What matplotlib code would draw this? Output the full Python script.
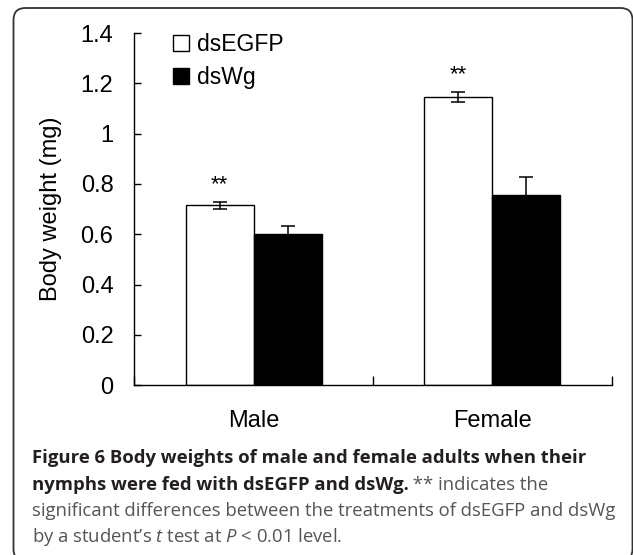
import numpy as np
import matplotlib
matplotlib.use('Agg')
import matplotlib.pyplot as plt
import matplotlib.patches as patches
from matplotlib.transforms import IdentityTransform

plt.rcParams['font.family'] = ['Liberation Sans', 'DejaVu Sans']
plt.rcParams['mathtext.fontset'] = 'custom'
plt.rcParams['mathtext.rm'] = 'Open Sans'
plt.rcParams['mathtext.it'] = 'Open Sans:italic'

# data
groups = ['Male', 'Female']
dsegfp = [0.715, 1.145]
dsegfp_err = [0.015, 0.02]
dswg = [0.603, 0.755]
dswg_err = [0.03, 0.073]
signif = ['**', '**']
ytick_vals = [0, 0.2, 0.4, 0.6, 0.8, 1.0, 1.2, 1.4]
ytick_labels = ['0', '0.2', '0.4', '0.6', '0.8', '1', '1.2', '1.4']

fig = plt.figure(figsize=(6.33, 5.55), dpi=100)
ax = fig.add_axes([0.2122, 0.3058, 0.7542, 0.6347])

x = np.arange(len(groups))
w = 0.285
ax.bar(x - w / 2, dsegfp, w, color='white', edgecolor='black', linewidth=1.0,
       label='dsEGFP', zorder=2)
ax.bar(x + w / 2, dswg, w, color='black', edgecolor='black', linewidth=1.0,
       label='dsWg', zorder=2)
ax.errorbar(x - w / 2, dsegfp, yerr=dsegfp_err, fmt='none', ecolor='black',
            elinewidth=1.1, capsize=4.8, capthick=1.1, zorder=3)
ax.errorbar(x + w / 2, dswg, yerr=dswg_err, fmt='none', ecolor='black',
            elinewidth=1.1, capsize=4.8, capthick=1.1, zorder=3)

for xi, v, e, s in zip(x - w / 2, dsegfp, dsegfp_err, signif):
    ax.annotate(s, (xi, v + e), xytext=(0, 8.5), textcoords='offset points',
                ha='center', va='baseline', fontsize=16)

ax.set_xlim(-0.5, 1.5)
ax.set_ylim(0, 1.4)
ax.set_yticks(ytick_vals)
ax.set_yticklabels(ytick_labels)
ax.set_xticks(x)
ax.set_xticklabels(groups)
ax.set_xticks([-0.5, 0.5, 1.5], minor=True)
ax.tick_params(axis='x', which='major', length=0, pad=18, labelsize=17)
ax.tick_params(axis='x', which='minor', length=6.5, width=1.0, direction='in')
ax.tick_params(axis='y', length=5, width=1.0, direction='in', pad=15, labelsize=17)

for sp in ['top', 'right']:
    ax.spines[sp].set_visible(False)
for sp in ['left', 'bottom']:
    ax.spines[sp].set_linewidth(1.0)

ax.set_ylabel('Body weight (mg)', fontsize=17)
ax.yaxis.set_label_coords(-0.151, 0.5)

ax.legend(loc='upper left', bbox_to_anchor=(0.081, 1.0), frameon=False,
          fontsize=16.5, handlelength=0.7, handleheight=0.7, handletextpad=0.35,
          labelspacing=0.45, borderpad=0, borderaxespad=0)

# rounded border around the figure
border = patches.FancyBboxPatch((13.5, -6), 619, 553, boxstyle='round,pad=0,rounding_size=12',
                                transform=IdentityTransform(), facecolor='none',
                                edgecolor='#333333', linewidth=1.3)
fig.patches.append(border)

# caption
cap_kw = dict(fontsize=13.3, family=['Open Sans', 'DejaVu Sans'])
x0 = 0.050
fig.text(x0, 0.1658, 'Figure 6 Body weights of male and female adults when their',
         fontweight='bold', color='#231f20', va='baseline', **cap_kw)
t2 = fig.text(x0, 0.1171, 'nymphs were fed with dsEGFP and dsWg.',
              fontweight='bold', color='#231f20', va='baseline', **cap_kw)
fig.canvas.draw()
bb = t2.get_window_extent()
fig.text(bb.x1 / fig.bbox.width, 0.1171, ' ** indicates the', va='baseline',
         color='#555555', **cap_kw)
fig.text(x0, 0.0703, 'significant differences between the treatments of dsEGFP and dsWg',
         color='#555555', va='baseline', **cap_kw)
fig.text(x0, 0.0234, r'by a student’s $\mathit{t}$ test at $\mathit{P}$ < 0.01 level.',
         color='#555555', va='baseline', **cap_kw)

fig.savefig('out.png', dpi=100)
